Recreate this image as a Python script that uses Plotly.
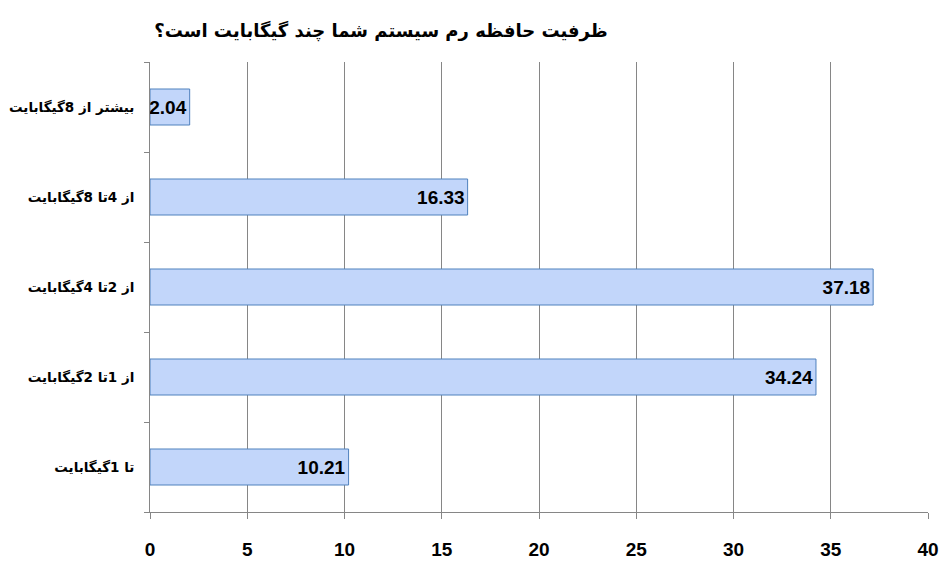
import plotly.graph_objects as go

categories = ["تا 1گیگابایت", "از 1تا 2گیگابایت", "از 2تا 4گیگابایت", "از 4تا 8گیگابایت", "بیشتر از 8گیگابایت"]
values = [10.21, 34.24, 37.18, 16.33, 2.04]
value_labels = ["10.21", "34.24", "37.18", "16.33", "2.04"]
x_ticks = [0, 5, 10, 15, 20, 25, 30, 35, 40]
title_text = "ظرفیت حافظه رم سیستم شما چند گیگابایت است؟"

num_font = "Liberation Sans Narrow, Liberation Sans, Arial"
ar_font = "DejaVu Sans, Tahoma, sans-serif"

fig = go.Figure()
fig.add_trace(go.Bar(
    y=categories,
    x=values,
    orientation="h",
    width=0.4,
    marker=dict(color="#c2d6fa", line=dict(color="#4f81bd", width=1)),
    text=value_labels,
    textposition="inside",
    insidetextanchor="end",
    constraintext="none",
    textfont=dict(family=num_font, size=19, color="#000000", weight="bold"),
    cliponaxis=False,
    hoverinfo="skip",
))

fig.update_layout(
    width=941, height=565,
    margin=dict(l=142, r=21, t=54, b=61),
    paper_bgcolor="white", plot_bgcolor="white",
    showlegend=False,
    title=dict(text="<b>" + title_text + "</b>", x=373 / 941, xanchor="center",
               y=1 - 23 / 565, yanchor="middle",
               font=dict(family=ar_font, size=18, color="#000000")),
)
fig.update_xaxes(
    range=[0, 40], tickvals=x_ticks, ticktext=[str(v) for v in x_ticks],
    showgrid=True, gridcolor="#868686", gridwidth=1,
    showline=True, linecolor="#868686", linewidth=1,
    ticks="outside", ticklen=6, tickcolor="#868686",
    tickfont=dict(family=num_font, size=19, color="#000000", weight="bold"),
    ticklabelstandoff=14,
    zeroline=False, automargin=False,
)
fig.update_yaxes(
    showline=True, linecolor="#868686", linewidth=1,
    ticks="outside", ticklen=5, tickcolor="#868686", tickson="boundaries",
    tickfont=dict(family=ar_font, size=13.5, color="#000000", weight="bold"),
    ticklabelstandoff=12,
    showgrid=False, automargin=False,
)

fig.write_html("out.html")
